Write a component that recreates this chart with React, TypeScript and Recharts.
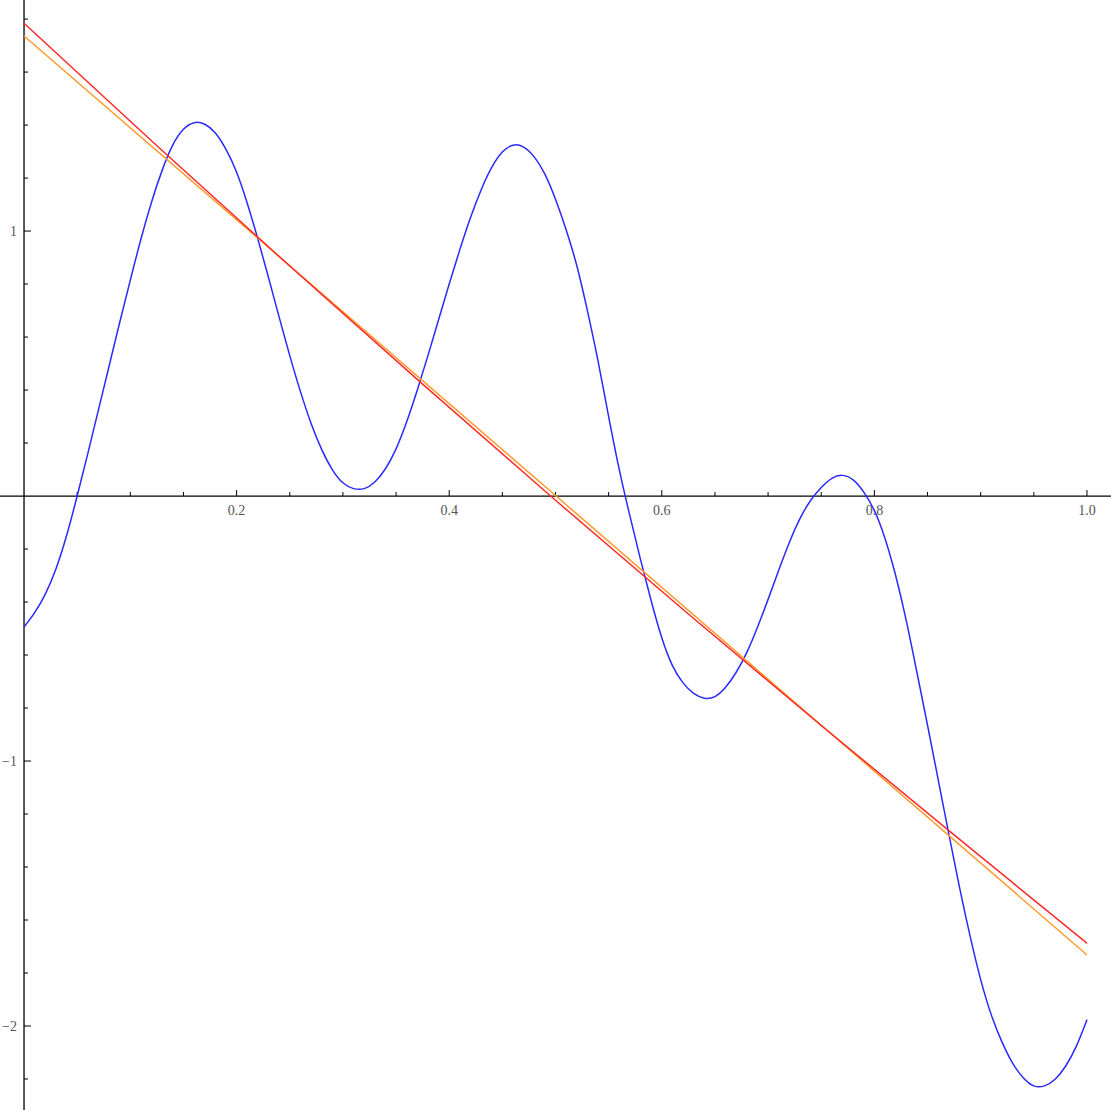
import { LineChart, Line, XAxis, YAxis, ReferenceLine, ReferenceDot } from "recharts";

const W = 1111;
const H = 1110;
const X_DOMAIN: [number, number] = [-0.0226, 1.0226];
const Y_DOMAIN: [number, number] = [-2.317, 1.872];

// blue curve at steps of 0.01
const curveX = [
  0, 0.01, 0.02, 0.03, 0.04, 0.05, 0.06, 0.07, 0.08, 0.09,
  0.1, 0.11, 0.12, 0.13, 0.14, 0.15, 0.16, 0.17, 0.18, 0.19,
  0.2, 0.21, 0.22, 0.23, 0.24, 0.25, 0.26, 0.27, 0.28, 0.29,
  0.3, 0.31, 0.32, 0.33, 0.34, 0.35, 0.36, 0.37, 0.38, 0.39,
  0.4, 0.41, 0.42, 0.43, 0.44, 0.45, 0.46, 0.47, 0.48, 0.49,
  0.5, 0.51, 0.52, 0.53, 0.54, 0.55, 0.56, 0.57, 0.58, 0.59,
  0.6, 0.61, 0.62, 0.63, 0.64, 0.65, 0.66, 0.67, 0.68, 0.69,
  0.7, 0.71, 0.72, 0.73, 0.74, 0.75, 0.76, 0.77, 0.78, 0.79,
  0.8, 0.81, 0.82, 0.83, 0.84, 0.85, 0.86, 0.87, 0.88, 0.89,
  0.9, 0.91, 0.92, 0.93, 0.94, 0.95, 0.96, 0.97, 0.98, 0.99,
  1.0,
];
const curveY = [
  -0.494, -0.44, -0.37, -0.275, -0.15, 0, 0.16, 0.325, 0.49, 0.655,
  0.815, 0.97, 1.11, 1.23, 1.325, 1.384, 1.409, 1.403, 1.37, 1.308,
  1.222, 1.105, 0.97, 0.825, 0.675, 0.53, 0.395, 0.275, 0.176, 0.1,
  0.05, 0.028, 0.028, 0.053, 0.103, 0.178, 0.28, 0.4, 0.53, 0.665,
  0.8, 0.93, 1.05, 1.155, 1.24, 1.298, 1.324, 1.317, 1.28, 1.215,
  1.12, 1.005, 0.87, 0.7, 0.51, 0.3, 0.1, -0.075, -0.24, -0.395,
  -0.535, -0.64, -0.705, -0.745, -0.763, -0.757, -0.722, -0.665, -0.59, -0.495,
  -0.39, -0.28, -0.175, -0.085, -0.017, 0.032, 0.067, 0.078, 0.061, 0.015,
  -0.055, -0.16, -0.3, -0.47, -0.665, -0.865, -1.07, -1.275, -1.475, -1.66,
  -1.825, -1.958, -2.06, -2.14, -2.195, -2.226, -2.226, -2.201, -2.151, -2.076,
  -1.976,
];

// red fit
const redX = [0, 0.125, 0.25, 0.375, 0.5, 0.625, 0.75, 0.875, 1];
const redY = [1.784, 1.322, 0.868, 0.4225, -0.016, -0.445, -0.866, -1.279, -1.688];

// orange fit
const orangeX = [0, 0.5, 1];
const orangeY = [1.736, 0.002, -1.732];

const xMajorTicks = [0.2, 0.4, 0.6, 0.8, 1.0];
const xMajorLabels = ["0.2", "0.4", "0.6", "0.8", "1.0"];
const xMinorTicks = [0.05, 0.1, 0.15, 0.25, 0.3, 0.35, 0.45, 0.5, 0.55, 0.65, 0.7, 0.75, 0.85, 0.9, 0.95];
const yMajorTicks = [-2, -1, 1];
const yMajorLabels = ["−2", "−1", "1"];
const yMinorTicks = [-2.2, -1.8, -1.6, -1.4, -1.2, -0.8, -0.6, -0.4, -0.2, 0.2, 0.4, 0.6, 0.8, 1.2, 1.4, 1.6, 1.8];

const zip = (xs: number[], ys: number[]) => xs.map((x, i) => ({ x, y: ys[i] }));
const curve = zip(curveX, curveY);
const red = zip(redX, redY);
const orange = zip(orangeX, orangeY);

// pixel lengths of tick marks turned into data units
const dyPx = (Y_DOMAIN[1] - Y_DOMAIN[0]) / H;
const dxPx = (X_DOMAIN[1] - X_DOMAIN[0]) / W;

const labelStyle = { fill: "#555", fontSize: 14, fontFamily: "Liberation Serif, DejaVu Serif, serif" };

export default function App() {
  return (
    <div style={{ position: "absolute", left: 0, top: 0, background: "#fff" }}>
      <LineChart width={W} height={H} margin={{ top: 0, right: 0, bottom: 0, left: 0 }}>
        <XAxis type="number" dataKey="x" domain={X_DOMAIN} allowDataOverflow hide />
        <YAxis type="number" dataKey="y" domain={Y_DOMAIN} allowDataOverflow hide />

        <ReferenceLine y={0} stroke="#000" strokeWidth={1.3} />
        <ReferenceLine x={0} stroke="#000" strokeWidth={1.3} />

        {xMinorTicks.map((t) => (
          <ReferenceLine key={`xm${t}`} segment={[{ x: t, y: 0 }, { x: t, y: 4 * dyPx }]} stroke="#000" strokeWidth={1} />
        ))}
        {xMajorTicks.map((t) => (
          <ReferenceLine key={`xM${t}`} segment={[{ x: t, y: 0 }, { x: t, y: 6 * dyPx }]} stroke="#000" strokeWidth={1} />
        ))}
        {yMinorTicks.map((t) => (
          <ReferenceLine key={`ym${t}`} segment={[{ x: 0, y: t }, { x: 4 * dxPx, y: t }]} stroke="#000" strokeWidth={1} />
        ))}
        {yMajorTicks.map((t) => (
          <ReferenceLine key={`yM${t}`} segment={[{ x: 0, y: t }, { x: 7 * dxPx, y: t }]} stroke="#000" strokeWidth={1} />
        ))}

        {xMajorTicks.map((t, i) => (
          <ReferenceDot
            key={`xl${t}`}
            x={t}
            y={0}
            r={0}
            fill="none"
            stroke="none"
            label={{ value: xMajorLabels[i], position: "bottom", offset: 9, ...labelStyle }}
          />
        ))}
        {yMajorTicks.map((t, i) => (
          <ReferenceDot
            key={`yl${t}`}
            x={0}
            y={t}
            r={0}
            fill="none"
            stroke="none"
            label={{ value: yMajorLabels[i], position: "left", offset: 7, ...labelStyle }}
          />
        ))}

        <Line data={curve} dataKey="y" type="natural" stroke="#2a2aff" strokeWidth={1.5} dot={false} activeDot={false} isAnimationActive={false} />
        <Line data={orange} dataKey="y" type="linear" stroke="#ff9a2a" strokeWidth={1.5} dot={false} activeDot={false} isAnimationActive={false} />
        <Line data={red} dataKey="y" type="natural" stroke="#ff2a2a" strokeWidth={1.5} dot={false} activeDot={false} isAnimationActive={false} />
      </LineChart>
    </div>
  );
}
